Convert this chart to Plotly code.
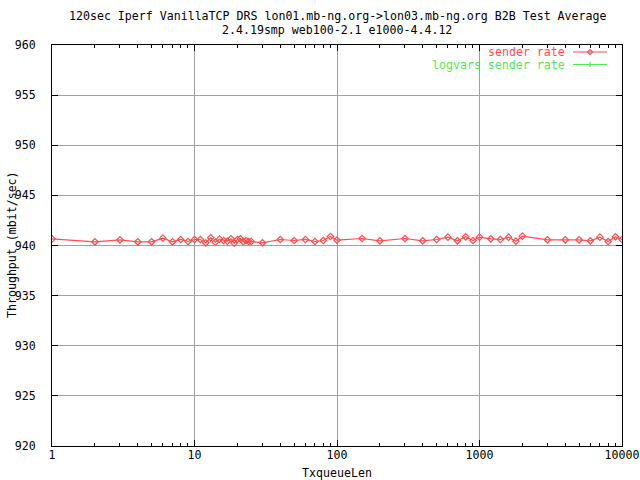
import plotly.graph_objects as go

txqueuelen = [1, 2, 3, 4, 5, 6, 7, 8, 9, 10, 11, 12, 13, 14, 15, 16, 17, 18, 19, 20,
              21, 22, 23, 24, 25, 30, 40, 50, 60, 70, 80, 90, 100, 150, 200, 300, 400,
              500, 600, 700, 800, 900, 1000, 1200, 1400, 1600, 1800, 2000, 3000, 4000,
              5000, 6000, 7000, 8000, 9000, 10000]
sender_rate = [940.67, 940.37, 940.57, 940.37, 940.37, 940.73, 940.37, 940.60, 940.40, 940.60,
               940.60, 940.27, 940.77, 940.33, 940.63, 940.50, 940.43, 940.67, 940.23, 940.60,
               940.67, 940.40, 940.50, 940.40, 940.40, 940.27, 940.60, 940.50, 940.60, 940.40,
               940.50, 940.90, 940.53, 940.70, 940.47, 940.70, 940.47, 940.60, 940.83, 940.47,
               940.87, 940.50, 940.83, 940.67, 940.60, 940.83, 940.43, 940.93, 940.57, 940.57,
               940.57, 940.47, 940.83, 940.40, 940.87, 940.60]
logvars_x = []
logvars_rate = []

title_line1 = "120sec Iperf VanillaTCP DRS lon01.mb-ng.org->lon03.mb-ng.org B2B Test Average"
title_line2 = "2.4.19smp web100-2.1 e1000-4.4.12"
y_title = "Throughput (mbit/sec)"
x_title = "TxqueueLen"
y_ticks = [920, 925, 930, 935, 940, 945, 950, 955, 960]
x_ticks = [1, 10, 100, 1000, 10000]

RED = "#ff4d4d"
GREEN = "#4dee4d"
FONT = "DejaVu Sans Mono"
FS = 11.6

fig = go.Figure()
fig.add_trace(go.Scatter(x=txqueuelen, y=sender_rate, mode="lines+markers", name="sender rate",
                         line=dict(color=RED, width=1.2),
                         marker=dict(symbol="diamond-open", size=5, color=RED, line=dict(width=1.2)),
                         showlegend=False))
fig.add_trace(go.Scatter(x=logvars_x, y=logvars_rate, mode="lines+markers", name="logvars sender rate",
                         line=dict(color=GREEN, width=1.2),
                         marker=dict(symbol="line-ns", size=6, color=GREEN),
                         showlegend=False))

L, R, T, B = 52, 18, 45, 34
W, H = 640, 480
pw, ph = W - L - R, H - T - B

def px(xp):
    return (xp - L) / pw

def py(yp):
    return (H - B - yp) / ph

# legend (gnuplot style: right-aligned text, sample on the right)
annots = []
shapes = []
for label, color, ypix, kind in [("sender rate", RED, 52, "diamond"),
                                  ("logvars sender rate", GREEN, 64.5, "plus")]:
    annots.append(dict(x=px(567), y=py(ypix), xref="paper", yref="paper", text=label,
                       showarrow=False, xanchor="right", yanchor="middle",
                       font=dict(family=FONT, size=FS, color=color)))
    shapes.append(dict(type="line", xref="paper", yref="paper", x0=px(573), x1=px(607),
                       y0=py(ypix), y1=py(ypix), line=dict(color=color, width=1.2)))
    cx, cy = px(590), py(ypix)
    dx, dy = 2.5 / pw, 2.5 / ph
    if kind == "diamond":
        shapes.append(dict(type="path", xref="paper", yref="paper",
                           path=f"M {cx-dx} {cy} L {cx} {cy+dy} L {cx+dx} {cy} L {cx} {cy-dy} Z",
                           line=dict(color=color, width=1.2)))
    else:
        shapes.append(dict(type="line", xref="paper", yref="paper", x0=cx, x1=cx,
                           y0=cy - dy, y1=cy + dy, line=dict(color=color, width=1.2)))

annots.append(dict(x=0.5, y=py(16.5), xref="paper", yref="paper", text=title_line1,
                   showarrow=False, xanchor="center", yanchor="middle",
                   font=dict(family=FONT, size=FS, color="black")))
annots.append(dict(x=0.5, y=py(29.5), xref="paper", yref="paper", text=title_line2,
                   showarrow=False, xanchor="center", yanchor="middle",
                   font=dict(family=FONT, size=FS, color="black")))
annots.append(dict(x=px(12), y=py(245), xref="paper", yref="paper", text=y_title,
                   textangle=-90, showarrow=False, xanchor="center", yanchor="middle",
                   font=dict(family=FONT, size=FS, color="black")))

fig.update_layout(
    width=W, height=H,
    margin=dict(l=L, r=R, t=T, b=B),
    paper_bgcolor="white", plot_bgcolor="white",
    font=dict(family=FONT, size=FS, color="black"),
    annotations=annots, shapes=shapes,
    showlegend=False,
)
fig.update_xaxes(type="log", range=[0, 4], tickvals=x_ticks, ticktext=[str(v) for v in x_ticks],
                 automargin=False,
                 ticks="inside", ticklen=6, tickcolor="black", tickwidth=1,
                 showline=True, linecolor="black", linewidth=1, mirror="allticks",
                 showgrid=True, gridcolor="#a0a0a0", gridwidth=1, zeroline=False,
                 minor=dict(ticks="inside", ticklen=3, tickcolor="black", dtick="D1", showgrid=False),
                 ticklabelstandoff=-2,
                 title=dict(text=x_title, standoff=8, font=dict(family=FONT, size=FS)),
                 tickfont=dict(family=FONT, size=FS))
fig.update_yaxes(range=[920, 960], tickvals=y_ticks,
                 automargin=False,
                 ticks="inside", ticklen=6, tickcolor="black", tickwidth=1,
                 showline=True, linecolor="black", linewidth=1, mirror="allticks",
                 showgrid=True, gridcolor="#a0a0a0", gridwidth=1, zeroline=False,
                 ticklabelstandoff=13,
                 tickfont=dict(family=FONT, size=FS))

fig.write_html("out.html", config={"displayModeBar": False},
               post_script="document.body.style.margin='0px';")
